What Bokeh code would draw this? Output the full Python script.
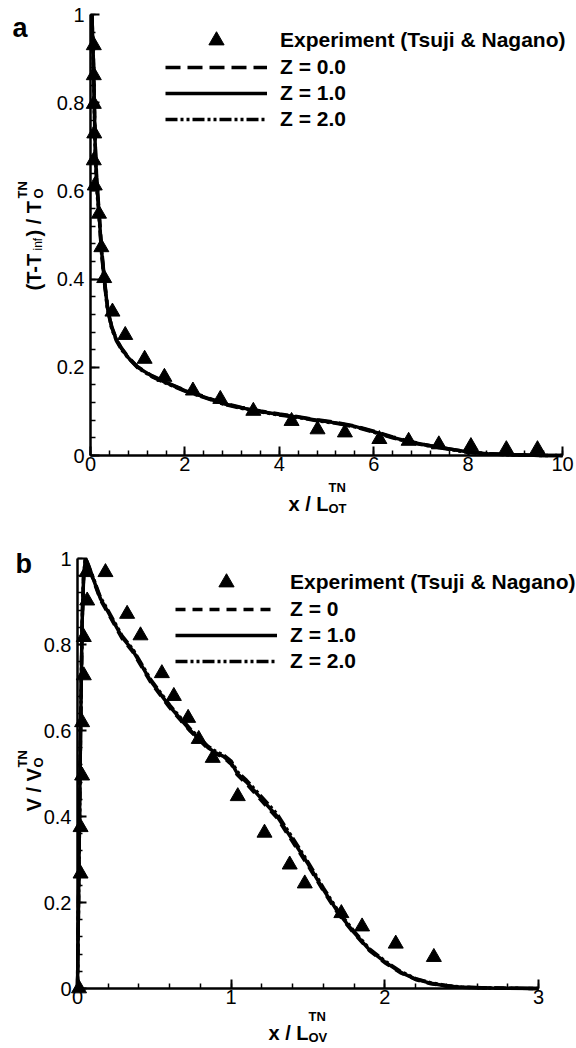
import math
from bokeh.plotting import figure
from bokeh.layouts import column
from bokeh.models import (Range1d, SingleIntervalTicker, CustomJSTickFormatter,
                          Label, Legend, LegendItem)
from bokeh.embed import file_html
from bokeh.resources import INLINE

FONT = "Liberation Sans"

# ---------------- data: panel a (temperature) ----------------
a_exp_x = [0.07, 0.07, 0.07, 0.08, 0.07, 0.09, 0.18, 0.23, 0.29, 0.465, 0.736, 1.147, 1.566,
           2.17, 2.75, 3.45, 4.26, 4.81, 5.39, 6.12, 6.74, 7.38, 8.06, 8.81, 9.47]
a_exp_y = [0.93, 0.862, 0.797, 0.73, 0.669, 0.612, 0.548, 0.472, 0.402, 0.326, 0.273, 0.219, 0.178,
           0.147, 0.128, 0.101, 0.078, 0.059, 0.052, 0.037, 0.033, 0.025, 0.021, 0.014, 0.014]

a_x = [0.03, 0.06, 0.08, 0.10, 0.13, 0.18, 0.23, 0.29, 0.36, 0.45, 0.55, 0.66, 0.8, 1.0, 1.3,
       1.6, 2.0, 2.4, 2.8, 3.2, 3.6, 4.0, 4.4, 4.8, 5.2, 5.6, 6.0, 6.4, 6.8, 7.2, 7.6, 8.0,
       8.4, 8.8, 9.2, 9.6, 10.0]
a_z0 = [1.0, 0.91, 0.81, 0.71, 0.63, 0.555, 0.475, 0.405, 0.338, 0.292, 0.263, 0.243, 0.223, 0.201, 0.181,
        0.166, 0.148, 0.134, 0.119, 0.109, 0.101, 0.094, 0.088, 0.081, 0.075, 0.067, 0.055, 0.042, 0.031, 0.022, 0.015, 0.008,
        0.004, 0.002, 0.001, 0.0, 0.0]
a_z1 = [1.0, 0.9, 0.8, 0.7, 0.62, 0.55, 0.47, 0.40, 0.335, 0.29, 0.262, 0.242, 0.222, 0.200, 0.180,
        0.165, 0.147, 0.133, 0.118, 0.108, 0.100, 0.093, 0.087, 0.080, 0.074, 0.066, 0.054, 0.041, 0.030, 0.022, 0.015, 0.008,
        0.004, 0.002, 0.001, 0.0, 0.0]
a_z2 = [1.0, 0.89, 0.79, 0.69, 0.61, 0.545, 0.465, 0.396, 0.332, 0.288, 0.260, 0.240, 0.221, 0.199, 0.179,
        0.164, 0.146, 0.132, 0.117, 0.107, 0.099, 0.092, 0.086, 0.079, 0.073, 0.065, 0.053, 0.040, 0.029, 0.021, 0.014, 0.007,
        0.004, 0.002, 0.001, 0.0, 0.0]

# ---------------- data: panel b (velocity) ----------------
b_exp_x = [0.01, 0.02, 0.02, 0.03, 0.03, 0.041, 0.041, 0.063, 0.059, 0.182, 0.323, 0.41, 0.549,
           0.627, 0.72, 0.789, 0.88, 1.043, 1.217, 1.381, 1.479, 1.717, 1.852, 2.071, 2.319]
b_exp_y = [0.0, 0.267, 0.375, 0.495, 0.619, 0.728, 0.817, 0.902, 0.968, 0.968, 0.871, 0.821, 0.733,
           0.68, 0.629, 0.58, 0.536, 0.447, 0.362, 0.288, 0.244, 0.175, 0.144, 0.104, 0.073]

b_x = [0, 0.01, 0.02, 0.03, 0.04, 0.052, 0.07, 0.1, 0.15, 0.2, 0.29, 0.36, 0.475, 0.6, 0.735,
       0.85, 0.9, 0.95, 1.0, 1.04, 1.1, 1.2, 1.3, 1.4, 1.5, 1.6, 1.7, 1.8, 1.9, 2.0,
       2.1, 2.2, 2.3, 2.4, 2.5, 2.7, 3.0]
b_z0 = [0, 0.3, 0.6, 0.85, 0.96, 1.0, 0.985, 0.953, 0.903, 0.872, 0.814, 0.783, 0.713, 0.653, 0.598,
        0.558, 0.546, 0.537, 0.522, 0.497, 0.476, 0.436, 0.396, 0.341, 0.286, 0.227, 0.172, 0.128, 0.088, 0.060,
        0.037, 0.021, 0.011, 0.006, 0.003, 0.001, 0.0]
b_z1 = [0, 0.3, 0.6, 0.85, 0.96, 1.0, 0.985, 0.955, 0.906, 0.875, 0.817, 0.786, 0.716, 0.656, 0.600,
        0.560, 0.548, 0.540, 0.525, 0.500, 0.480, 0.440, 0.400, 0.345, 0.290, 0.230, 0.175, 0.130, 0.090, 0.062,
        0.038, 0.022, 0.012, 0.006, 0.003, 0.001, 0.0]
b_z2 = [0, 0.3, 0.6, 0.85, 0.96, 1.0, 0.986, 0.957, 0.909, 0.878, 0.820, 0.789, 0.719, 0.659, 0.603,
        0.563, 0.551, 0.543, 0.529, 0.504, 0.484, 0.445, 0.405, 0.350, 0.294, 0.234, 0.178, 0.133, 0.092, 0.064,
        0.040, 0.023, 0.013, 0.007, 0.003, 0.001, 0.0]

a_labels = ["Experiment (Tsuji & Nagano)", "Z = 0.0", "Z = 1.0", "Z = 2.0"]
b_labels = ["Experiment (Tsuji & Nagano)", "Z = 0", "Z = 1.0", "Z = 2.0"]

# ---------------- layout geometry (page pixels of the data box) ----------------
A = dict(left=90, right=562, top=14, bottom=455, x0=0, x1=10, h=520, off=0)
B = dict(left=77, right=538, top=558, bottom=988, x0=0, x1=3, h=528, off=520)
W = 576


def to_data(g, px, py):
    x = g["x0"] + (px - g["left"]) / (g["right"] - g["left"]) * (g["x1"] - g["x0"])
    y = (g["bottom"] - py) / (g["bottom"] - g["top"])
    return x, y


def make_fig(g, xint):
    # the frame covers the whole canvas; the axes sit at data 0 (fixed_location)
    x_lo, y_hi = to_data(g, 0, g["off"])
    x_hi, y_lo = to_data(g, W, g["off"] + g["h"])
    p = figure(width=W, height=g["h"], x_range=Range1d(x_lo, x_hi), y_range=Range1d(y_lo, y_hi),
               toolbar_location=None, output_backend="svg",
               min_border=0, min_border_left=0, min_border_right=0,
               min_border_top=0, min_border_bottom=0)
    p.frame_align = False
    p.grid.visible = False
    p.outline_line_color = None
    p.background_fill_color = "white"
    p.border_fill_color = "white"
    p.xaxis.ticker = SingleIntervalTicker(interval=xint, num_minor_ticks=5)
    p.yaxis.ticker = SingleIntervalTicker(interval=0.2, num_minor_ticks=5)
    p.xaxis.fixed_location = 0
    p.yaxis.fixed_location = 0
    p.xaxis.bounds = (g["x0"], g["x1"])
    p.yaxis.bounds = (0, 1)
    fmt = CustomJSTickFormatter(code="return (Math.round(tick*100)/100).toString();")
    for ax in list(p.xaxis) + list(p.yaxis):
        ax.formatter = fmt
        ax.axis_line_width = 2.5
        ax.axis_line_color = "black"
        ax.major_tick_in = 9
        ax.major_tick_out = 0
        ax.minor_tick_in = 5
        ax.minor_tick_out = 0
        ax.major_tick_line_width = 2
        ax.minor_tick_line_width = 1.5
        ax.major_tick_line_color = "black"
        ax.minor_tick_line_color = "black"
        ax.major_label_text_font = FONT
        ax.major_label_text_font_size = "20px"
        ax.major_label_text_color = "black"
    for ax in p.xaxis:
        ax.major_label_standoff = 1
    for ax in p.yaxis:
        ax.major_label_standoff = 6
    return p


def add_text(p, g, px, py, text, size, bold=True, angle=0.0):
    x, y = to_data(g, px, py)
    p.add_layout(Label(x=x, y=y, text=text, text_font=FONT, text_font_size=f"{size}px",
                       text_font_style="bold" if bold else "normal", text_color="black",
                       text_align="left", text_baseline="alphabetic", angle=angle))


def make_legend(items, g, glyph_h, top_px, left_px):
    bottom_px = top_px + len(items) * glyph_h
    loc = (left_px, g["off"] + g["h"] - bottom_px)
    return Legend(items=items, location=loc, glyph_width=102, glyph_height=glyph_h, label_height=glyph_h,
                  spacing=0, padding=0, margin=0, label_standoff=13,
                  label_text_font=FONT, label_text_font_style="bold", label_text_font_size="21px",
                  label_text_color="black", background_fill_alpha=0, border_line_color=None)


def draw_panel(p, g, ex, ey, xs, z0, z1, z2, labels, dash0, row1_y, left_px):
    r2 = p.line(xs, z2, line_color="black", line_width=3.5, line_dash="12 3 3 3 3 3")
    r0 = p.line(xs, z0, line_color="black", line_width=3.5, line_dash=dash0)
    r1 = p.line(xs, z1, line_color="black", line_width=3.5)
    rs = p.scatter(ex, ey, marker="triangle", size=15, color="black")
    leg1 = make_legend([LegendItem(label=labels[0], renderers=[rs])], g, 38, row1_y - 19, left_px)
    leg2 = make_legend([LegendItem(label=labels[1], renderers=[r0]),
                        LegendItem(label=labels[2], renderers=[r1]),
                        LegendItem(label=labels[3], renderers=[r2])], g, 26, row1_y + 14, left_px)
    p.add_layout(leg1)
    p.add_layout(leg2)


R = math.pi / 2

pa = make_fig(A, 2)
draw_panel(pa, A, a_exp_x, a_exp_y, a_x, a_z0, a_z1, a_z2, a_labels, "15 7", 40, 165)
add_text(pa, A, 12, 27, "a", 27)
add_text(pa, A, 288, 503, "x / L", 20)
add_text(pa, A, 328, 508, "OT", 13)
add_text(pa, A, 328, 487, "TN", 13)
add_text(pa, A, 33, 290, "(T-T", 20, angle=R)
add_text(pa, A, 37, 250, "inf", 12, bold=False, angle=R)
add_text(pa, A, 33, 236, ") / T", 20, angle=R)
add_text(pa, A, 38, 198, "O", 13, angle=R)
add_text(pa, A, 22, 198, "TN", 13, angle=R)

pb = make_fig(B, 1)
draw_panel(pb, B, b_exp_x, b_exp_y, b_x, b_z0, b_z1, b_z2, b_labels, "10 7", 582, 175)
add_text(pb, B, 15, 563, "b", 27)
add_text(pb, B, 268, 1032, "x / L", 20)
add_text(pb, B, 308, 1037, "OV", 13)
add_text(pb, B, 308, 1016, "TN", 13)
add_text(pb, B, 33, 811, "V / V", 20, angle=R)
add_text(pb, B, 38, 767, "O", 13, angle=R)
add_text(pb, B, 22, 767, "TN", 13, angle=R)

layout = column(pa, pb, spacing=0)
open("out.html", "w").write(file_html(layout, INLINE))
